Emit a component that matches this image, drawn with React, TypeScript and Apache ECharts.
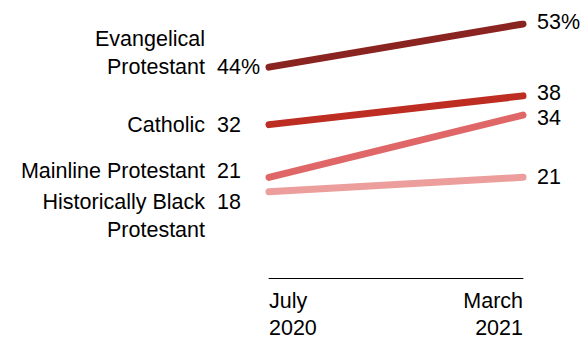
import React, { useEffect, useRef } from "react";
import * as echarts from "echarts";

const periods = ["July\n2020", "March\n2021"];
const groups = ["Evangelical\nProtestant", "Catholic", "Mainline Protestant", "Historically Black\nProtestant"];
const julyValues = [44, 32, 21, 18];
const marchValues = [53, 38, 34, 21];
const julyLabels = ["44%", "32", "21", "18"];
const marchLabels = ["53%", "38", "34", "21"];
const colors = ["#8A2420", "#BD2D22", "#E06767", "#EC9E9C"];

const FONT = "'Liberation Sans', Arial, sans-serif";
const FS = 21.5;

export default function App() {
  const ref = useRef<HTMLDivElement>(null);
  useEffect(() => {
    if (!ref.current) return;
    const chart = echarts.init(ref.current, null, { renderer: "svg" });
    chart.setOption({
      animation: false,
      grid: { left: 269, right: 59, top: 24, bottom: 60.5 },
      xAxis: {
        type: "category",
        data: periods,
        boundaryGap: false,
        axisLine: { lineStyle: { color: "#000", width: 1 } },
        axisTick: { show: false },
        axisLabel: {
          color: "#000",
          fontFamily: FONT,
          fontSize: FS,
          lineHeight: 27,
          margin: 9,
          alignMinLabel: "left",
          alignMaxLabel: "right",
        },
      },
      yAxis: {
        type: "value",
        min: 0,
        max: 53,
        show: false,
        splitLine: { show: false },
      },
      series: groups.map((g, i) => ({
        type: "line",
        name: g,
        data: [julyValues[i], marchValues[i]],
        symbol: "none",
        lineStyle: { color: colors[i], width: 7, cap: "round" },
        z: 10 - i,
      })),
    });

    const nameOffsets = [0, 0, -6, 10];
    const marchOffsets = [-2, -3, 3, 0];
    const graphics: any[] = [];
    groups.forEach((g, i) => {
      const pL = chart.convertToPixel({ gridIndex: 0 }, [0, julyValues[i]]) as number[];
      const pR = chart.convertToPixel({ gridIndex: 0 }, [1, marchValues[i]]) as number[];
      const lines = g.split("\n");
      const y0 = pL[1] + nameOffsets[i];
      let firstCenter = y0;
      if (i === 0) firstCenter = y0 - 28 * (lines.length - 1);
      lines.forEach((ln, k) => {
        graphics.push({
          type: "text",
          x: pL[0] - 64,
          y: firstCenter + 28 * k,
          style: {
            text: ln,
            align: "right",
            verticalAlign: "middle",
            fontFamily: FONT,
            fontSize: FS,
            fill: "#000",
          },
        });
      });
      graphics.push({
        type: "text",
        x: pL[0] - 52,
        y: y0,
        style: {
          text: julyLabels[i],
          align: "left",
          verticalAlign: "middle",
          fontFamily: FONT,
          fontSize: FS,
          fill: "#000",
        },
      });
      graphics.push({
        type: "text",
        x: pR[0] + 14,
        y: pR[1] + marchOffsets[i],
        style: {
          text: marchLabels[i],
          align: "left",
          verticalAlign: "middle",
          fontFamily: FONT,
          fontSize: FS,
          fill: "#000",
        },
      });
    });
    chart.setOption({ graphic: graphics });
    return () => chart.dispose();
  }, []);
  return <div ref={ref} style={{ width: 582, height: 341, position: "absolute", left: 0, top: 0 }} />;
}
